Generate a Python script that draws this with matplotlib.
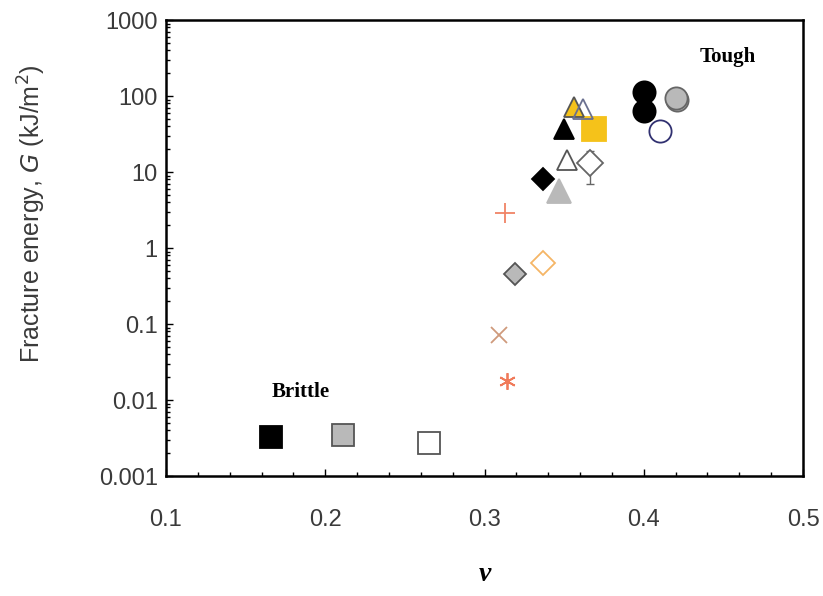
import numpy as np
import matplotlib.pyplot as plt
from matplotlib.ticker import MultipleLocator, LogLocator, NullFormatter, FixedFormatter, FixedLocator

# Poisson's ratio and fracture energy for each material
nu = [0.166, 0.211, 0.265, 0.314, 0.309, 0.319, 0.337, 0.313,
      0.337, 0.347, 0.352, 0.366, 0.350, 0.369, 0.356, 0.362,
      0.400, 0.400, 0.421, 0.420, 0.410]
G = [0.0033, 0.0035, 0.0027, 0.018, 0.072, 0.46, 0.63, 2.9,
     8.0, 5.6, 14.5, 13.0, 37.0, 37.0, 72.0, 68.0,
     112.0, 63.0, 88.0, 95.0, 35.0]
G_err_lo = [0, 0, 0, 0, 0, 0, 0, 0,
            0, 0, 0, 6.0, 0, 0, 0, 0,
            0, 0, 10.0, 12.0, 0]
G_err_hi = [0, 0, 0, 0, 0, 0, 0, 0,
            0, 0, 0, 6.0, 0, 0, 0, 0,
            0, 0, 10.0, 12.0, 0]

# Marker styles: (marker, face, edge, size)
yellow = '#f5c21a'
grey = '#b9b9b9'
styles = [
    ('s', 'black', 'black', 15.5),
    ('s', grey, '#555555', 15.5),
    ('s', 'white', '#555555', 15.5),
    ((6, 2, 0), 'none', '#f07a5a', 12),
    ('x', 'none', '#cf9a7c', 11),
    ('D', grey, '#555555', 11),
    ('D', 'white', '#f5b566', 12),
    ('+', 'none', '#f08466', 14),
    ('D', 'black', 'black', 11),
    ('^', grey, grey, 17),
    ('^', 'white', '#555555', 15),
    ('D', 'white', '#666666', 13),
    ('^', 'black', 'black', 15),
    ('s', yellow, yellow, 17),
    ('^', yellow, '#555555', 15),
    ('^', 'none', '#6a7090', 15),
    ('o', 'black', 'black', 16),
    ('o', 'black', 'black', 16),
    ('o', grey, '#666666', 16),
    ('o', grey, '#666666', 16),
    ('o', 'white', '#303070', 16),
]

plt.rcParams['font.family'] = ['Liberation Sans', 'DejaVu Sans']

fig = plt.figure(figsize=(8.23, 5.96), dpi=100)
ax = fig.add_axes([0.2017, 0.2013, 0.774, 0.765])

for x, y, lo, hi, (m, fc, ec, ms) in zip(nu, G, G_err_lo, G_err_hi, styles):
    if lo or hi:
        ax.errorbar(x, y, yerr=[[lo], [hi]], fmt='none', ecolor='#666666',
                    elinewidth=1.0, capsize=3, zorder=2)
    ax.plot(x, y, marker=m, markersize=ms, markerfacecolor=fc,
            markeredgecolor=ec, markeredgewidth=1.3, linestyle='none', zorder=3)

ax.set_yscale('log')
ax.set_xlim(0.1, 0.5)
ax.set_ylim(0.001, 1000)

ax.xaxis.set_minor_locator(MultipleLocator(0.02))
ax.set_xticks([0.1, 0.2, 0.3, 0.4, 0.5])
ax.set_xticklabels(['0.1', '0.2', '0.3', '0.4', '0.5'])
yt = [0.001, 0.01, 0.1, 1, 10, 100, 1000]
ax.yaxis.set_major_locator(FixedLocator(yt))
ax.yaxis.set_major_formatter(FixedFormatter(['0.001', '0.01', '0.1', '1', '10', '100', '1000']))
ax.yaxis.set_minor_locator(LogLocator(base=10, subs=np.arange(2, 10)))
ax.yaxis.set_minor_formatter(NullFormatter())

ax.tick_params(axis='both', which='both', direction='in', labelsize=17,
               labelcolor='#3a3a3a', width=1.0)
ax.tick_params(axis='both', which='major', length=5)
ax.tick_params(axis='both', which='minor', length=3)
ax.tick_params(axis='x', which='both', pad=24)
ax.tick_params(axis='y', which='both', pad=6)
for s in ax.spines.values():
    s.set_linewidth(1.8)

ax.set_xlabel('ν', fontsize=20, family='Liberation Serif',
              style='italic', fontweight='bold', labelpad=22)
ax.set_ylabel(r'Fracture energy, $\mathbf{\mathit{G}}$ (kJ/m$^2$)', fontsize=18,
              color='#3a3a3a')
ax.yaxis.set_label_coords(-0.186, 0.575)

ax.text(0.1845, 0.0129, 'Brittle', fontsize=15, fontweight='bold',
        family='Liberation Serif', ha='center', va='center')
ax.text(0.4527, 330, 'Tough', fontsize=15, fontweight='bold',
        family='Liberation Serif', ha='center', va='center')

fig.savefig('out.png', dpi=100)
